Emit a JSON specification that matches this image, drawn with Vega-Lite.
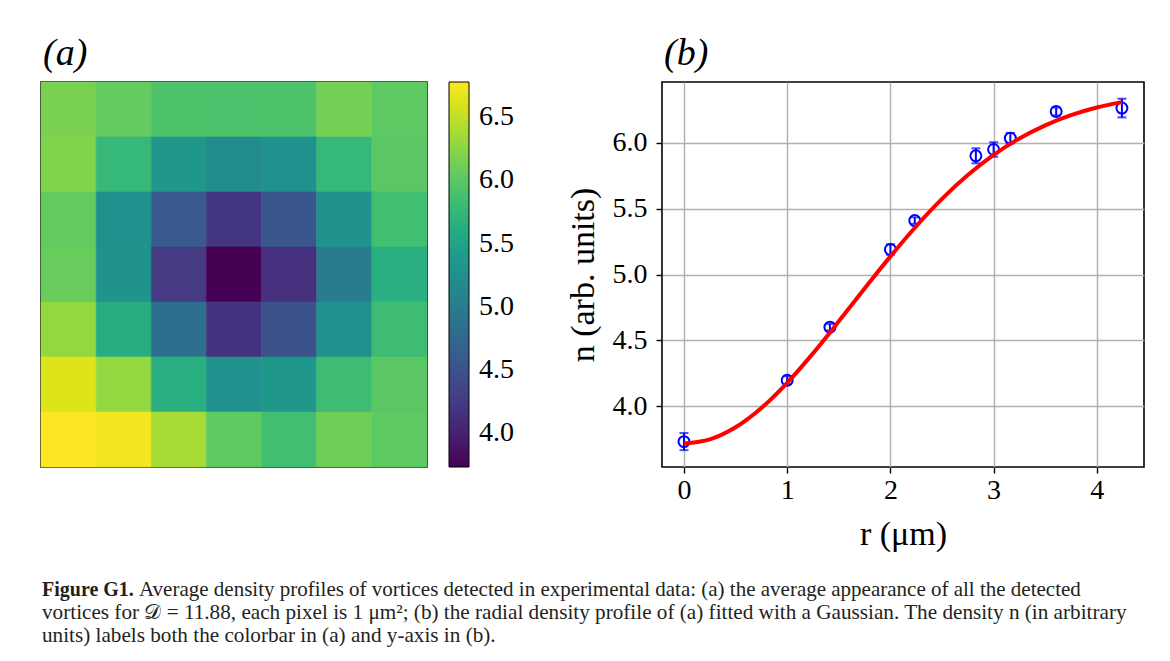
{
  "$schema": "https://vega.github.io/schema/vega-lite/v6.json",
  "padding": {"left": 39, "top": 33, "right": 0, "bottom": 0},
  "background": "white",
  "autosize": {"type": "pad"},
  "spacing": 26,
  "config": {
    "font": "Liberation Serif",
    "view": {"stroke": "black", "strokeWidth": 1.6},
    "axis": {"labelFont": "Liberation Serif", "titleFont": "Liberation Serif", "labelColor": "black", "titleColor": "black", "titleFontWeight": "normal", "labelFontSize": 28, "titleFontSize": 34, "tickColor": "black", "tickWidth": 1.4, "tickSize": 6, "domain": false, "gridColor": "#b0b0b0", "gridWidth": 1.4, "gridOpacity": 1, "labelPadding": 4},
    "title": {"font": "Liberation Serif", "fontWeight": "normal", "color": "black"}
  },
  "vconcat": [
    {
      "bounds": "flush",
      "spacing": 235,
      "resolve": {"legend": {"color": "independent"}},
      "hconcat": [
        {
          "width": 386,
          "height": 385,
          "title": {"text": "(a)", "anchor": "start", "fontSize": 38, "fontStyle": "italic", "baseline": "alphabetic", "offset": -21, "dx": 2, "frame": "group"},
          "data": {"values": [
            {"row": 0, "col": 0, "n": 6.17}, {"row": 0, "col": 1, "n": 6.05}, {"row": 0, "col": 2, "n": 5.93}, {"row": 0, "col": 3, "n": 5.92}, {"row": 0, "col": 4, "n": 5.93}, {"row": 0, "col": 5, "n": 6.14}, {"row": 0, "col": 6, "n": 6.02},
            {"row": 1, "col": 0, "n": 6.20}, {"row": 1, "col": 1, "n": 5.77}, {"row": 1, "col": 2, "n": 5.34}, {"row": 1, "col": 3, "n": 5.19}, {"row": 1, "col": 4, "n": 5.25}, {"row": 1, "col": 5, "n": 5.77}, {"row": 1, "col": 6, "n": 6.00},
            {"row": 2, "col": 0, "n": 6.05}, {"row": 2, "col": 1, "n": 5.25}, {"row": 2, "col": 2, "n": 4.58}, {"row": 2, "col": 3, "n": 4.20}, {"row": 2, "col": 4, "n": 4.55}, {"row": 2, "col": 5, "n": 5.28}, {"row": 2, "col": 6, "n": 5.86},
            {"row": 3, "col": 0, "n": 6.08}, {"row": 3, "col": 1, "n": 5.28}, {"row": 3, "col": 2, "n": 4.25}, {"row": 3, "col": 3, "n": 3.73}, {"row": 3, "col": 4, "n": 4.15}, {"row": 3, "col": 5, "n": 5.00}, {"row": 3, "col": 6, "n": 5.65},
            {"row": 4, "col": 0, "n": 6.29}, {"row": 4, "col": 1, "n": 5.62}, {"row": 4, "col": 2, "n": 4.85}, {"row": 4, "col": 3, "n": 4.17}, {"row": 4, "col": 4, "n": 4.49}, {"row": 4, "col": 5, "n": 5.25}, {"row": 4, "col": 6, "n": 5.83},
            {"row": 5, "col": 0, "n": 6.63}, {"row": 5, "col": 1, "n": 6.29}, {"row": 5, "col": 2, "n": 5.65}, {"row": 5, "col": 3, "n": 5.25}, {"row": 5, "col": 4, "n": 5.34}, {"row": 5, "col": 5, "n": 5.83}, {"row": 5, "col": 6, "n": 6.00},
            {"row": 6, "col": 0, "n": 6.78}, {"row": 6, "col": 1, "n": 6.72}, {"row": 6, "col": 2, "n": 6.38}, {"row": 6, "col": 3, "n": 6.02}, {"row": 6, "col": 4, "n": 5.86}, {"row": 6, "col": 5, "n": 6.11}, {"row": 6, "col": 6, "n": 6.02}
          ]},
          "mark": {"type": "rect", "strokeWidth": 0.6},
          "encoding": {
            "x": {"field": "col", "type": "ordinal", "axis": null, "scale": {"paddingInner": 0, "paddingOuter": 0}},
            "y": {"field": "row", "type": "ordinal", "axis": null, "scale": {"paddingInner": 0, "paddingOuter": 0}},
            "color": {"field": "n", "type": "quantitative", "scale": {"scheme": "viridis", "domain": [3.73, 6.78], "nice": false, "zero": false},
              "legend": {"orient": "right", "offset": 22, "direction": "vertical", "gradientLength": 385, "gradientThickness": 20, "gradientStrokeColor": "black", "gradientStrokeWidth": 1, "values": [4.0, 4.5, 5.0, 5.5, 6.0, 6.5], "format": ".1f", "labelFont": "Liberation Serif", "labelFontSize": 28, "labelColor": "black", "labelOffset": 10, "labelOverlap": false, "title": null, "padding": 0}},
            "stroke": {"field": "n", "type": "quantitative", "legend": null, "scale": {"scheme": "viridis", "domain": [3.73, 6.78], "nice": false, "zero": false}}
          }
        },
        {
          "width": 482,
          "height": 385,
          "title": {"text": "(b)", "anchor": "start", "fontSize": 38, "fontStyle": "italic", "baseline": "alphabetic", "offset": -21, "dx": 2, "frame": "group"},
          "encoding": {
            "x": {"field": "r", "type": "quantitative", "scale": {"domain": [-0.213, 4.457], "nice": false, "zero": false}, "axis": {"values": [0, 1, 2, 3, 4], "format": "d", "title": "r (μm)", "grid": true, "labelPadding": 3, "titlePadding": 13}}
          },
          "layer": [
            {
              "data": {"name": "pts", "values": [
                {"r": 0.0, "n": 3.730, "lo": 3.665, "hi": 3.795},
                {"r": 1.0, "n": 4.196, "lo": 4.166, "hi": 4.226},
                {"r": 1.414, "n": 4.600, "lo": 4.575, "hi": 4.625},
                {"r": 2.0, "n": 5.190, "lo": 5.150, "hi": 5.230},
                {"r": 2.236, "n": 5.410, "lo": 5.385, "hi": 5.435},
                {"r": 2.828, "n": 5.902, "lo": 5.845, "hi": 5.959},
                {"r": 3.0, "n": 5.950, "lo": 5.895, "hi": 6.005},
                {"r": 3.162, "n": 6.036, "lo": 5.996, "hi": 6.076},
                {"r": 3.606, "n": 6.239, "lo": 6.209, "hi": 6.269},
                {"r": 4.243, "n": 6.265, "lo": 6.194, "hi": 6.336}
              ]},
              "layer": [
                {
                  "mark": {"type": "rule", "color": "#0000ff", "strokeWidth": 2},
                  "encoding": {
                    "y": {"field": "lo", "type": "quantitative", "scale": {"domain": [3.537, 6.463], "nice": false, "zero": false}, "axis": {"values": [4.0, 4.5, 5.0, 5.5, 6.0], "format": ".1f", "title": "n (arb. units)", "grid": true, "labelPadding": 9, "titlePadding": 12}},
                    "y2": {"field": "hi"}
                  }
                },
                {
                  "mark": {"type": "tick", "orient": "horizontal", "color": "#0000ff", "size": 9, "thickness": 2},
                  "encoding": {"y": {"field": "lo", "type": "quantitative", "axis": {"title": "n (arb. units)"}}}
                },
                {
                  "mark": {"type": "tick", "orient": "horizontal", "color": "#0000ff", "size": 9, "thickness": 2},
                  "encoding": {"y": {"field": "hi", "type": "quantitative", "axis": {"title": "n (arb. units)"}}}
                },
                {
                  "mark": {"type": "point", "shape": "circle", "filled": false, "stroke": "#0000ff", "strokeWidth": 2, "size": 120, "opacity": 1},
                  "encoding": {"y": {"field": "n", "type": "quantitative", "axis": {"title": "n (arb. units)"}}}
                }
              ]
            },
            {
              "data": {"name": "fit", "values": [
                {"r": 0.0, "n": 3.715}, {"r": 0.25, "n": 3.7465}, {"r": 0.5, "n": 3.8387}, {"r": 0.75, "n": 3.9854},
                {"r": 1.0, "n": 4.1767}, {"r": 1.25, "n": 4.4005}, {"r": 1.5, "n": 4.644}, {"r": 1.75, "n": 4.8935},
                {"r": 2.0, "n": 5.1378}, {"r": 2.25, "n": 5.3669}, {"r": 2.5, "n": 5.5743}, {"r": 2.75, "n": 5.7555},
                {"r": 3.0, "n": 5.9086}, {"r": 3.25, "n": 6.0341}, {"r": 3.5, "n": 6.1339}, {"r": 3.75, "n": 6.211},
                {"r": 4.0, "n": 6.2689}, {"r": 4.243, "n": 6.31}
              ]},
              "mark": {"type": "line", "color": "#ff0000", "strokeWidth": 4, "interpolate": "monotone"},
              "encoding": {"y": {"field": "n", "type": "quantitative", "axis": {"title": "n (arb. units)"}}}
            }
          ]
        }
      ]
    },
    {
      "width": 1100,
      "height": 70,
      "view": {"stroke": null},
      "data": {"values": [
        {"col": 0, "line": 1, "seg": "bold", "text": "Figure G1."},
        {"col": 0, "line": 1, "seg": "rest", "text": "Average density profiles of vortices detected in experimental data: (a) the average appearance of all the detected"},
        {"col": 0, "line": 2, "seg": "line", "text": "vortices for 𝒟 = 11.88, each pixel is 1 μm²; (b) the radial density profile of (a) fitted with a Gaussian. The density n (in arbitrary"},
        {"col": 0, "line": 3, "seg": "line", "text": "units) labels both the colorbar in (a) and y-axis in (b)."}
      ]},
      "encoding": {
        "x": {"field": "col", "type": "quantitative", "scale": {"domain": [0, 1], "nice": false, "zero": false}, "axis": null},
        "y": {"field": "line", "type": "quantitative", "scale": {"domain": [0.2174, 3.2609], "nice": false, "zero": false, "reverse": true}, "axis": null},
        "text": {"field": "text"}
      },
      "layer": [
        {"transform": [{"filter": "datum.seg == 'bold'"}], "mark": {"type": "text", "align": "left", "baseline": "alphabetic", "fontWeight": "bold", "fontSize": 20, "font": "Liberation Serif", "dx": 1, "color": "#231f20"}},
        {"transform": [{"filter": "datum.seg == 'rest'"}], "mark": {"type": "text", "align": "left", "baseline": "alphabetic", "fontSize": 21, "font": "Liberation Serif", "dx": 98, "color": "#231f20"}},
        {"transform": [{"filter": "datum.seg == 'line'"}], "mark": {"type": "text", "align": "left", "baseline": "alphabetic", "fontSize": 21.2, "font": "Liberation Serif", "dx": 1, "color": "#231f20"}}
      ]
    }
  ]
}
